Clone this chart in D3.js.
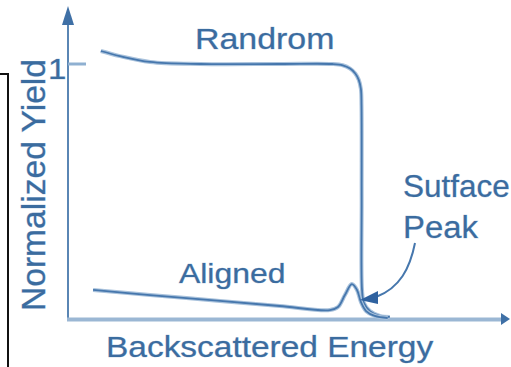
<!DOCTYPE html>
<html>
<head>
<meta charset="utf-8">
<script src="https://cdn.jsdelivr.net/npm/d3@7"></script>
<style>
  html, body { margin: 0; padding: 0; background: #fff; }
  svg { display: block; }
  text { font-family: "Liberation Sans", Arial, sans-serif; fill: #3b6c9f; stroke: #a7c0da; stroke-width: 0.6; paint-order: stroke; }
</style>
</head>
<body>
<svg id="chart" width="511" height="367"></svg>
<script>
// Normalized backscattering yield vs. energy (channeling spectrum sketch)
const energy = [0, 100];
const yieldRange = [0, 1];
const yTicks = [1];
const yTickLabels = ["1"];

// Random-orientation spectrum
const randomE = [7.6, 12, 19, 30.6, 49, 61.2, 63.6, 65.3, 66.5, 67.3, 67.8, 67.94, 67.98, 68.06, 68.5, 69.9, 72.2, 74.5];
const randomY = [1.051, 1.031, 1.008, 1.0, 1.0, 1.0, 0.995, 0.982, 0.963, 0.938, 0.902, 0.839, 0.467, 0.114, 0.063, 0.031, 0.012, 0.008];

// Aligned (channeled) spectrum with surface peak
const alignedE = [5.8, 19, 35.2, 49, 60.6, 62.5, 64.1, 65.7, 66.9, 67.8, 69, 71, 74];
const alignedY = [0.114, 0.094, 0.071, 0.051, 0.035, 0.047, 0.094, 0.137, 0.114, 0.067, 0.031, 0.012, 0.004];

const labels = {
  random: "Randrom",
  aligned: "Aligned",
  peak: ["Sutface", "Peak"],
  xTitle: "Backscattered Energy",
  yTitle: "Normalized Yield"
};

const svg = d3.select("#chart");
const x = d3.scaleLinear().domain(energy).range([68, 500]);
const y = d3.scaleLinear().domain(yieldRange).range([319, 64]);

const lineBlue = "#4677ad";
const haloBlue = "#a9c2dc";

// bracket at far left
svg.append("path")
  .attr("d", "M0,74 H8 V367")
  .attr("fill", "none").attr("stroke", "#111").attr("stroke-width", 2);

// y axis
svg.append("line")
  .attr("x1", 68).attr("x2", 68).attr("y1", 20).attr("y2", 320)
  .attr("stroke", "#5a86b4").attr("stroke-width", 2);
svg.append("path")
  .attr("d", "M68,6 L74,25 L62,25 Z")
  .attr("fill", "#3f70a6");

// y tick
yTicks.forEach((t, i) => {
  svg.append("line")
    .attr("x1", 68).attr("x2", 86).attr("y1", y(t)).attr("y2", y(t))
    .attr("stroke", "#8fb0d1").attr("stroke-width", 3);
  svg.append("text")
    .attr("transform", `translate(48,${y(t) + 15}) scale(1.1,1)`)
    .attr("font-size", 30)
    .text(yTickLabels[i]);
});

// x axis
svg.append("line")
  .attr("x1", 67).attr("x2", 503).attr("y1", 319.5).attr("y2", 319.5)
  .attr("stroke", "#9bb7d4").attr("stroke-width", 4);
svg.append("path")
  .attr("d", "M510,319 L501,313 L501,325 Z")
  .attr("fill", "#3f70a6");

const line = d3.line()
  .x(d => x(d[0]))
  .y(d => y(d[1]))
  .curve(d3.curveCatmullRom.alpha(0.5));

function drawCurve(es, ys) {
  const pts = es.map((e, i) => [e, ys[i]]);
  svg.append("path").attr("d", line(pts))
    .attr("fill", "none").attr("stroke", haloBlue).attr("stroke-width", 4)
    .attr("stroke-linejoin", "round");
  svg.append("path").attr("d", line(pts))
    .attr("fill", "none").attr("stroke", lineBlue).attr("stroke-width", 1.8)
    .attr("stroke-linejoin", "round");
}
drawCurve(randomE, randomY);
drawCurve(alignedE, alignedY);

// surface peak pointer
svg.append("path")
  .attr("d", "M415,243 C410,268 400,288 376,297")
  .attr("fill", "none").attr("stroke", lineBlue).attr("stroke-width", 2);
svg.append("path")
  .attr("d", "M360,300 L378,291 L378,304 Z")
  .attr("fill", "#2f62a0");

// labels
function label(txt, tx, ty, size, sx) {
  svg.append("text")
    .attr("transform", `translate(${tx},${ty}) scale(${sx},1)`)
    .attr("font-size", size)
    .text(txt);
}
label(labels.random, 195, 49, 30, 1.13);
label(labels.aligned, 179, 283, 28, 1.14);
label(labels.peak[0], 403, 197, 31, 1.015);
label(labels.peak[1], 403, 238, 31, 1.06);
label(labels.xTitle, 106, 357, 30, 1.115);

svg.append("text")
  .attr("transform", "translate(45,311) rotate(-90) scale(1.12,1.12)")
  .attr("font-size", 30)
  .text(labels.yTitle);
</script>
</body>
</html>
